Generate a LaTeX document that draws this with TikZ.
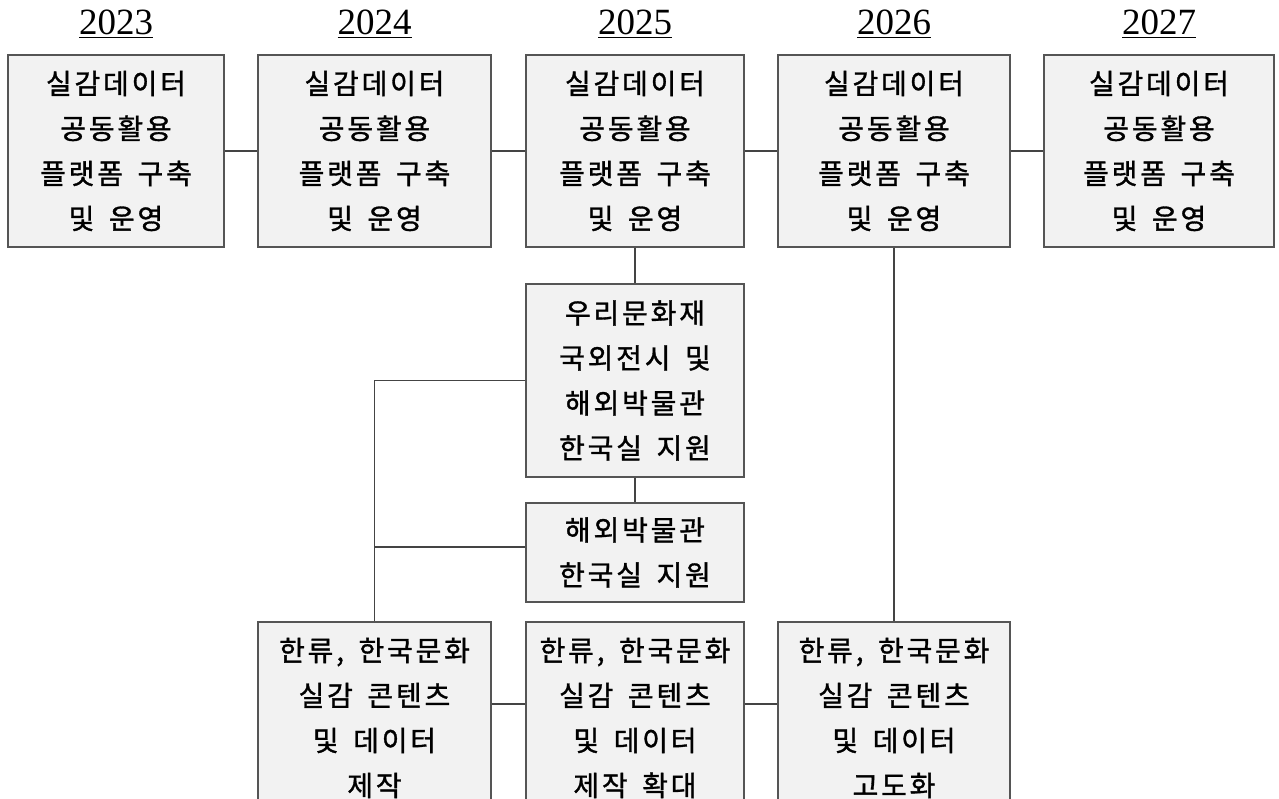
\documentclass[tikz,border=0pt]{standalone}
\usepackage{fontspec}
\setmainfont{Liberation Serif}
\newfontfamily\kr[LetterSpace=10,WordSpace=1.6,FakeBold=1.2]{Noto Sans CJK KR}
\usetikzlibrary{calc}
\definecolor{boxfill}{HTML}{F2F2F2}
\definecolor{boxline}{HTML}{555555}
\definecolor{connline}{HTML}{444444}
\tikzset{
  box/.style={draw=boxline, line width=1.4pt, fill=boxfill, align=center, inner sep=0pt,
    font=\kr\fontsize{28}{45}\selectfont, text=black},
  year/.style={font=\fontsize{37}{42}\selectfont, anchor=base, inner sep=0pt},
  conn/.style={draw=connline, line width=1.2pt}
}
\begin{document}
\begin{tikzpicture}[x=1pt,y=-1pt]
\useasboundingbox (0,0) rectangle (1279,799);
\clip (0,0) rectangle (1279,799);
% years
\node[year] (y1) at (116,35) {\underline{2023}};
\node[year] (y2) at (374.5,35) {\underline{2024}};
\node[year] (y3) at (635,35) {\underline{2025}};
\node[year] (y4) at (894,35) {\underline{2026}};
\node[year] (y5) at (1159,35) {\underline{2027}};
% top row
\node[box, minimum width=216pt, minimum height=192pt] (b1) at (116,151) {실감데이터\\공동활용\\플랫폼 구축\\및 운영};
\node[box, minimum width=233pt, minimum height=192pt] (b2) at (374.5,151) {실감데이터\\공동활용\\플랫폼 구축\\및 운영};
\node[box, minimum width=218pt, minimum height=192pt] (b3) at (635,151) {실감데이터\\공동활용\\플랫폼 구축\\및 운영};
\node[box, minimum width=232pt, minimum height=192pt] (b4) at (894,151) {실감데이터\\공동활용\\플랫폼 구축\\및 운영};
\node[box, minimum width=230pt, minimum height=192pt] (b5) at (1159,151) {실감데이터\\공동활용\\플랫폼 구축\\및 운영};
% middle column
\node[box, minimum width=218pt, minimum height=193pt] (m1) at (635,380.5) {우리문화재\\국외전시 및\\해외박물관\\한국실 지원};
\node[box, minimum width=218pt, minimum height=99pt] (m2) at (635,552.5) {해외박물관\\한국실 지원};
% bottom row
\node[box, minimum width=233pt, minimum height=192pt] (c1) at (374.5,718) {한류, 한국문화\\실감 콘텐츠\\및 데이터\\제작};
\node[box, minimum width=218pt, minimum height=192pt] (c2) at (635,718) {한류, 한국문화\\실감 콘텐츠\\및 데이터\\제작 확대};
\node[box, minimum width=232pt, minimum height=192pt] (c3) at (894,718) {한류, 한국문화\\실감 콘텐츠\\및 데이터\\고도화};
% helper coordinates
\coordinate (j2) at ($(m2.west)+(0,-5.5)$);
\coordinate (cy) at (0,704);
% connectors
\draw[conn] (b1.east) -- (b2.west);
\draw[conn] (b2.east) -- (b3.west);
\draw[conn] (b3.east) -- (b4.west);
\draw[conn] (b4.east) -- (b5.west);
\draw[conn] (b3.south) -- (m1.north);
\draw[conn] (m1.south) -- (m2.north);
\draw[conn] (m1.west) -| (c1.north);
\draw[conn] (c1.north |- j2) -- (j2);
\draw[conn] (b4.south) -- (c3.north);
\draw[conn] (c1.east |- cy) -- (c2.west |- cy);
\draw[conn] (c2.east |- cy) -- (c3.west |- cy);
\end{tikzpicture}
\end{document}
